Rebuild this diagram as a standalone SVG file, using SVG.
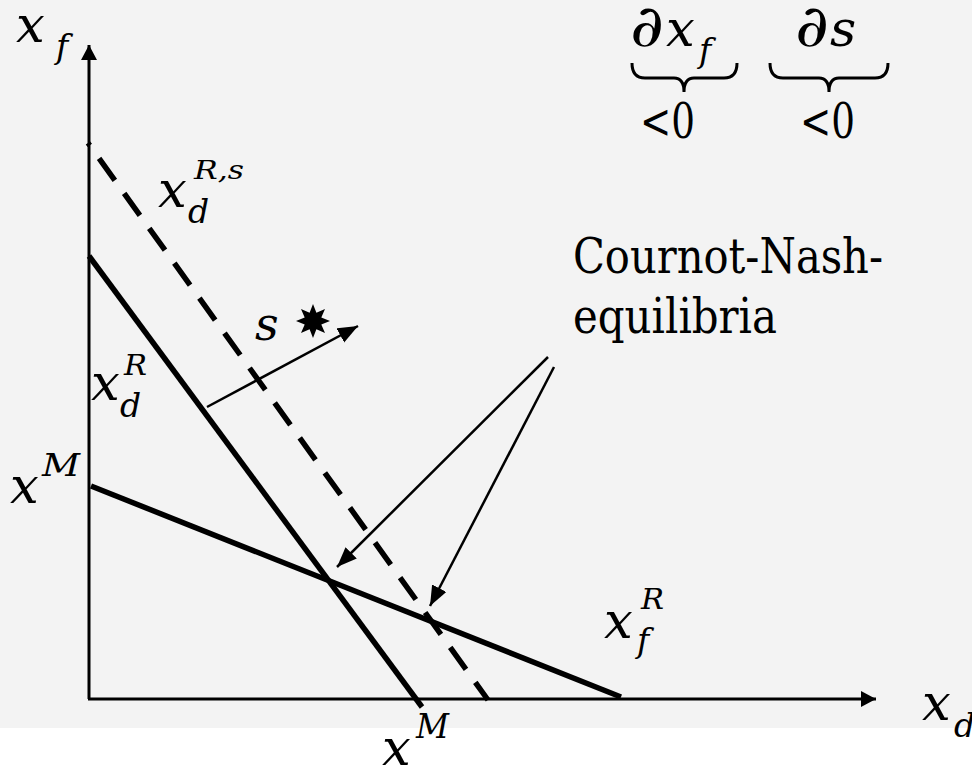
<svg xmlns="http://www.w3.org/2000/svg" width="972" height="767" viewBox="0 0 972 767">
<defs>
<style>
.mi{font-family:'DejaVu Serif',serif;font-style:italic;fill:#000}
.rm{font-family:'DejaVu Serif',serif;fill:#000}
.big{font-size:51px}
.sub{font-size:33px}
.ax{stroke:#000;stroke-width:3;fill:none}
.thick{stroke:#000;stroke-width:5.5;fill:none}
.thin{stroke:#000;stroke-width:2.5;fill:none}
.brace{stroke:#000;stroke-width:3;fill:none}
</style>
<marker id="ah" markerUnits="userSpaceOnUse" markerWidth="24" markerHeight="20" refX="20" refY="8" orient="auto">
<path d="M0,0 L20,8 L0,16 Z" fill="#000"/>
</marker>
<marker id="axh" markerUnits="userSpaceOnUse" markerWidth="18" markerHeight="18" refX="15" refY="8" orient="auto">
<path d="M0,0 L15,8 L0,16 Z" fill="#000"/>
</marker>
</defs>
<rect x="0" y="0" width="972" height="728" fill="#f3f3f3"/>
<rect x="0" y="728" width="972" height="39" fill="#ffffff"/>

<g id="axes">
<line class="ax" x1="89" y1="699" x2="89" y2="45" marker-end="url(#axh)"/>
<line class="ax" x1="88" y1="699" x2="876" y2="699" marker-end="url(#axh)"/>
</g>

<g id="curves">
<line id="xdR" class="thick" x1="89" y1="256" x2="422" y2="707"/>
<line id="xdRs" class="thick" x1="88" y1="143" x2="488" y2="700" stroke-dasharray="27 16" stroke-dashoffset="24"/>
<line id="xfR" class="thick" x1="91" y1="486" x2="621" y2="697"/>
</g>

<g id="connectors">
<line class="thin" x1="548" y1="357" x2="337" y2="567" marker-end="url(#ah)"/>
<line class="thin" x1="554" y1="367" x2="430" y2="606" marker-end="url(#ah)"/>
<line class="thin" x1="207" y1="407" x2="358" y2="326" marker-end="url(#ah)"/>
</g>

<g id="star">
<polygon fill="#000" points="313,304 316.4,312.7 325,309 321.3,317.6 330,321 321.3,324.4 325,333 316.4,329.3 313,338 309.6,329.3 301,333 304.7,324.4 296,321 304.7,317.6 301,309 309.6,312.7"/>
</g>

<g id="formula">
<text class="mi" font-size="58" x="630" y="46" textLength="34" lengthAdjust="spacingAndGlyphs">∂</text>
<text class="mi big" x="666" y="46">x</text>
<text class="mi sub" x="699" y="62">f</text>
<text class="mi" font-size="58" x="795" y="46" textLength="34" lengthAdjust="spacingAndGlyphs">∂</text>
<text class="mi big" x="830" y="46">s</text>
<path class="brace" d="M632,63 Q632,78 645,78 L674,78 Q684,78 684,92 Q684,78 694,78 L724,78 Q737,78 737,63"/>
<path class="brace" d="M770,63 Q770,78 783,78 L819,78 Q829,78 829,92 Q829,78 839,78 L875,78 Q888,78 888,63"/>
<text class="rm" font-size="48" x="640" y="138" textLength="55" lengthAdjust="spacingAndGlyphs">&lt;0</text>
<text class="rm" font-size="48" x="800" y="138" textLength="55" lengthAdjust="spacingAndGlyphs">&lt;0</text>
</g>

<g id="labels">
<g id="lbl-xf-axis"><text class="mi big" x="16" y="42">x</text><text class="mi sub" x="56" y="58">f</text></g>
<g id="lbl-xd-axis"><text class="mi big" x="922" y="720">x</text><text class="mi sub" x="954" y="737">d</text></g>
<g id="lbl-xdRs"><text class="mi big" x="158" y="207">x</text><text class="mi" font-size="26" x="194" y="179" textLength="50" lengthAdjust="spacingAndGlyphs">R,s</text><text class="mi sub" x="188" y="223">d</text></g>
<g id="lbl-xdR"><text class="mi big" x="91" y="400">x</text><text class="mi" font-size="27" x="124" y="375" textLength="23" lengthAdjust="spacingAndGlyphs">R</text><text class="mi sub" x="120" y="417">d</text></g>
<g id="lbl-xM-left"><text class="mi big" x="10" y="503">x</text><text class="mi" font-size="32" x="42" y="476" textLength="38" lengthAdjust="spacingAndGlyphs">M</text></g>
<g id="lbl-xM-bottom"><text class="mi big" x="382" y="765">x</text><text class="mi" font-size="33" x="416" y="738" textLength="33" lengthAdjust="spacingAndGlyphs">M</text></g>
<g id="lbl-xfR"><text class="mi big" x="604" y="638">x</text><text class="mi" font-size="28" x="641" y="609" textLength="23" lengthAdjust="spacingAndGlyphs">R</text><text class="mi sub" x="637" y="652">f</text></g>
<g id="lbl-s"><text class="mi" font-size="46" x="255" y="340">s</text></g>
<g id="lbl-cn"><text class="rm" font-size="48" x="573" y="273" textLength="310" lengthAdjust="spacingAndGlyphs">Cournot-Nash-</text><text class="rm" font-size="48" x="573" y="333" textLength="204" lengthAdjust="spacingAndGlyphs">equilibria</text></g>
</g>
</svg>
